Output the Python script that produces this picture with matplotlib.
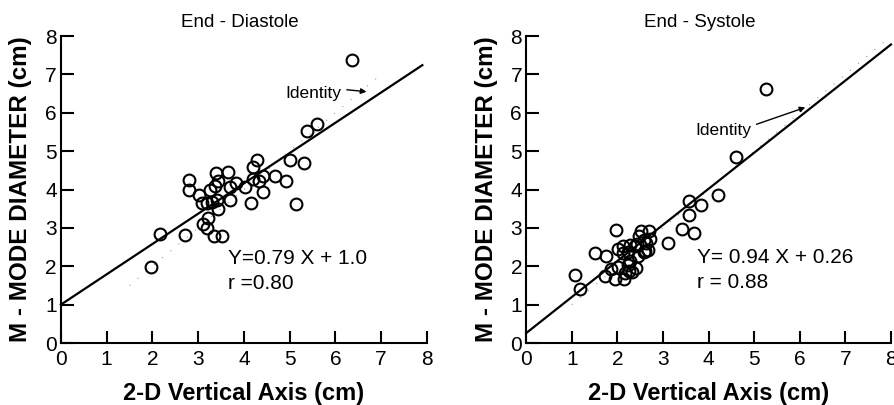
import numpy as np
import matplotlib.pyplot as plt

plt.rcParams['font.family'] = ['Liberation Sans', 'DejaVu Sans']
plt.rcParams['xtick.direction'] = 'in'
plt.rcParams['ytick.direction'] = 'in'

# End-diastole: 2-D vertical axis (x) vs M-mode diameter (y), cm
dia_x = [6.36, 5.59, 5.38, 5.01, 5.32, 4.91, 5.13, 4.67, 4.41, 4.28, 4.19,
         4.21, 4.32, 4.41, 4.16, 4.03, 3.82, 3.66, 3.70, 3.70, 3.44, 3.39,
         3.37, 3.27, 3.42, 3.30, 3.20, 3.09, 3.01, 2.79, 2.79, 3.44, 3.22,
         3.11, 3.20, 3.35, 3.53, 2.71, 2.17, 1.98]
dia_y = [7.38, 5.72, 5.53, 4.78, 4.68, 4.23, 3.63, 4.36, 4.36, 4.78, 4.59,
         4.28, 4.23, 3.94, 3.64, 4.07, 4.18, 4.45, 4.06, 3.74, 4.22, 4.43,
         4.08, 4.00, 3.74, 3.68, 3.64, 3.64, 3.87, 4.25, 4.00, 3.50, 3.26,
         3.10, 3.01, 2.80, 2.78, 2.82, 2.83, 1.99]

# End-systole
sys_x = [5.26, 4.59, 4.21, 3.83, 3.56, 3.56, 3.41, 3.67, 3.10, 1.96, 2.70,
         2.52, 2.48, 2.72, 2.58, 2.28, 2.12, 2.02, 2.39, 2.23, 2.46, 2.59,
         2.68, 1.50, 1.75, 1.07, 1.17, 1.72, 1.86, 1.95, 2.02, 2.15, 2.17,
         2.23, 2.32, 2.40, 2.28, 2.43, 2.62, 2.61, 2.13, 2.25]
sys_y = [6.63, 4.86, 3.87, 3.61, 3.69, 3.34, 2.96, 2.88, 2.60, 2.95, 2.91,
         2.91, 2.80, 2.72, 2.68, 2.56, 2.52, 2.45, 2.53, 2.36, 2.26, 2.38,
         2.43, 2.34, 2.27, 1.76, 1.42, 1.75, 1.94, 1.68, 1.98, 1.66, 1.82,
         2.03, 1.84, 1.95, 2.13, 2.57, 2.60, 2.40, 2.34, 1.87]

panels = [
    dict(title="End - Diastole", x=dia_x, y=dia_y, slope=0.79, icpt=1.0,
         xmax=7.9, eq="Y=0.79 X + 1.0", r="r =0.80",
         eq_xy=(3.66, 2.2), r_xy=(3.66, 1.56),
         id_txt=(4.9, 6.5), id_from=(6.25, 6.6), id_to=(6.68, 6.55),
         id_rng=(1.5, 7.0), left=0.068, right=0.477, title_x=0.49),
    dict(title="End - Systole", x=sys_x, y=sys_y, slope=0.94, icpt=0.26,
         xmax=8.0, eq="Y= 0.94 X + 0.26", r="r = 0.88",
         eq_xy=(3.74, 2.23), r_xy=(3.74, 1.58),
         id_txt=(3.7, 5.55), id_from=(5.05, 5.7), id_to=(6.12, 6.14),
         id_rng=(1.0, 8.0), left=0.588, right=0.9955, title_x=0.477),
]

fig = plt.figure(figsize=(8.95, 4.05), dpi=100)

for p in panels:
    ax = fig.add_axes([p['left'], 0.153, p['right'] - p['left'], 0.758])
    ax.plot(p['x'], p['y'], 'o', ms=8.5, mfc='none', mec='black', mew=1.5,
            clip_on=False, zorder=3)
    lx = np.array([0.0, p['xmax']])
    ax.plot(lx, p['slope'] * lx + p['icpt'], color='black', lw=1.6,
            clip_on=False)
    ix = np.array(p['id_rng'])
    ax.plot(ix, ix, color='black', lw=0.7, ls=(0, (1, 10)), alpha=0.5)

    ax.set_xlim(0, 8)
    ax.set_ylim(0, 8)
    ax.set_xticks(range(9))
    ax.set_yticks(range(9))
    for s in ('top', 'right'):
        ax.spines[s].set_visible(False)
    for s in ('left', 'bottom'):
        ax.spines[s].set_linewidth(1.5)
    ax.tick_params(axis='both', length=9, width=1.5, labelsize=15)
    ax.tick_params(axis='x', pad=5)
    ax.tick_params(axis='y', pad=3)

    ax.text(p['title_x'], 1.045, p['title'], transform=ax.transAxes,
            ha='center', va='center', fontsize=13.5)
    ax.set_xlabel("2-D Vertical Axis (cm)", fontsize=17, fontweight='bold',
                  va='center')
    ax.xaxis.set_label_coords(0.5, -0.163)
    ax.set_ylabel("M - MODE DIAMETER (cm)", fontsize=17.5, fontweight='bold',
                  va='center')
    ax.yaxis.set_label_coords(-0.11, 0.5)

    ax.text(*p['eq_xy'], p['eq'], fontsize=15, ha='left', va='center')
    ax.text(*p['r_xy'], p['r'], fontsize=15, ha='left', va='center')
    ax.text(*p['id_txt'], "Identity", fontsize=12.5, ha='left', va='center')
    ax.annotate("", xy=p['id_to'], xytext=p['id_from'],
                arrowprops=dict(arrowstyle='-|>', color='black', lw=1.0,
                                mutation_scale=8, shrinkA=0, shrinkB=0))

fig.savefig("out.png", dpi=100)
